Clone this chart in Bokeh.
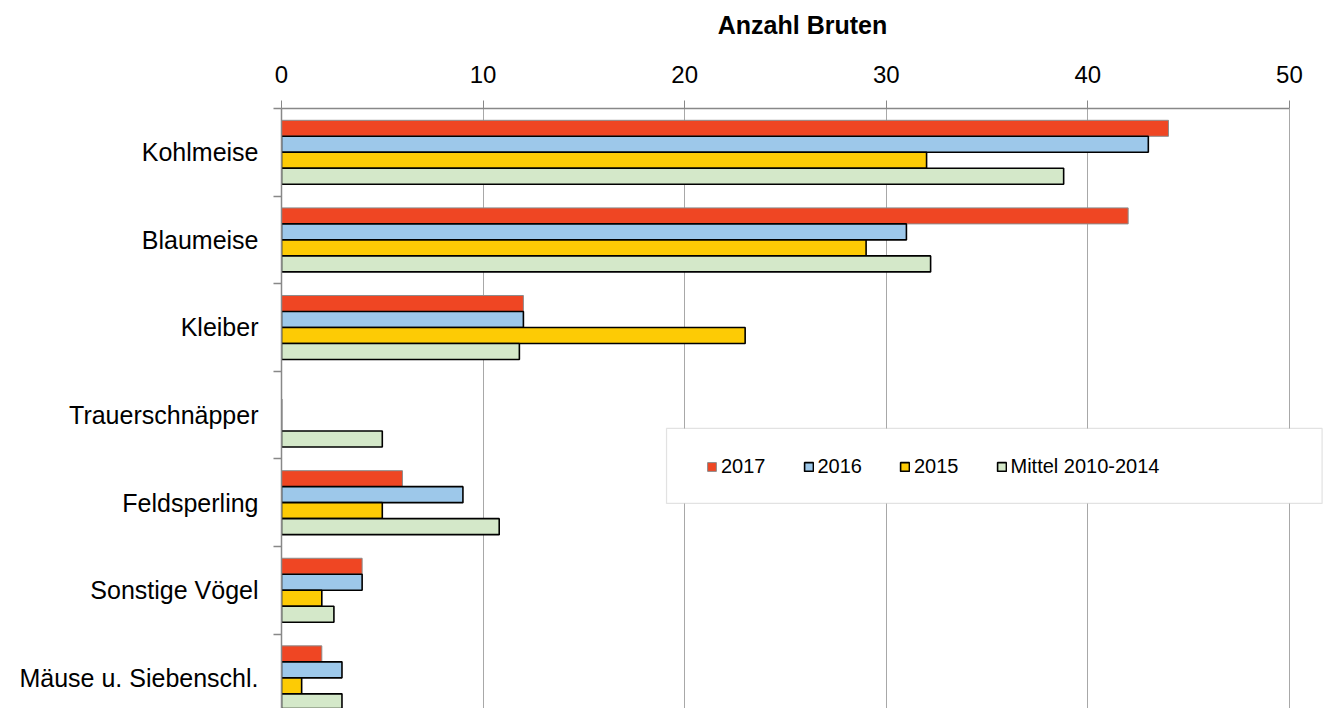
from bokeh.plotting import figure
from bokeh.models import Range1d, FixedTicker, Legend, LegendItem, BoxAnnotation
from bokeh.embed import file_html
from bokeh.resources import INLINE

# ---- data ----
categories = ["Kohlmeise", "Blaumeise", "Kleiber", "Trauerschnäpper",
              "Feldsperling", "Sonstige Vögel", "Mäuse u. Siebenschl."]
series_names = ["2017", "2016", "2015", "Mittel 2010-2014"]
v2017 = [44, 42, 12, 0, 6, 4, 2]
v2016 = [43, 31, 12, 0, 9, 4, 3]
v2015 = [32, 29, 23, 0, 5, 2, 1]
vmittel = [38.8, 32.2, 11.8, 5.0, 10.8, 2.6, 3.0]
x_ticks = [0, 10, 20, 30, 40, 50]

# ---- styles ----
fills = ["#EF4623", "#9DC8EA", "#FDCB05", "#D4E8C9"]
lines = ["#8C8C8C", "#000000", "#000000", "#000000"]
lwidths = [1, 1.6, 1.6, 1.6]
FONT = "Liberation Sans"
bh = 0.1826

p = figure(width=1323, height=708, output_backend="svg", toolbar_location=None,
           x_range=Range1d(0, 51.69), y_range=Range1d(6.85, 0),
           x_axis_location="above",
           min_border_left=281, min_border_right=0,
           min_border_top=108, min_border_bottom=0)
p.outline_line_color = None
p.background_fill_color = "white"
p.border_fill_color = "white"

# grid
p.xgrid.ticker = FixedTicker(ticks=x_ticks)
p.xgrid.grid_line_color = "#A8A8A8"
p.xgrid.grid_line_width = 1
p.ygrid.grid_line_color = None

# x axis (top)
xa = p.xaxis[0]
xa.ticker = FixedTicker(ticks=x_ticks)
xa.bounds = (0, 50)
xa.axis_line_color = "#888888"
xa.axis_line_width = 1.5
xa.major_tick_line_color = "#888888"
xa.major_tick_out = 8
xa.major_tick_in = 0
xa.minor_tick_line_color = None
xa.major_label_text_font = FONT
xa.major_label_text_font_size = "24px"
xa.major_label_text_color = "black"
xa.major_label_standoff = 18
xa.axis_label = "Anzahl Bruten"
xa.axis_label_text_font = FONT
xa.axis_label_text_font_size = "25px"
xa.axis_label_text_font_style = "bold"
xa.axis_label_text_color = "black"
xa.axis_label_standoff = 24

# y axis (left) with boundary ticks as minor ticks
ya = p.yaxis[0]
centers = [i + 0.5 for i in range(len(categories))]
ya.ticker = FixedTicker(ticks=centers, minor_ticks=list(range(len(categories) + 1)))
ya.major_label_overrides = {c: name for c, name in zip(centers, categories)}
ya.major_tick_line_color = None
ya.major_tick_out = 0
ya.major_tick_in = 0
ya.minor_tick_line_color = "#888888"
ya.minor_tick_line_width = 1.5
ya.minor_tick_out = 8
ya.minor_tick_in = 0
ya.axis_line_color = "#888888"
ya.axis_line_width = 1.5
ya.major_label_text_font = FONT
ya.major_label_text_font_size = "25px"
ya.major_label_text_color = "black"
ya.major_label_standoff = 15

# bars
renderers = []
for j, vals in enumerate([v2017, v2016, v2015, vmittel]):
    ys = [i + 0.5 + (j - 1.5) * bh for i in range(len(categories))]
    r = p.hbar(y=ys, left=0, right=vals, height=bh,
               fill_color=fills[j], line_color=lines[j], line_width=lwidths[j])
    renderers.append(r)

# legend frame
box = BoxAnnotation(left=19.10, right=51.62, top=3.653, bottom=4.509,
                    fill_color="white", fill_alpha=1.0,
                    line_color="#A0A0A0", line_width=1.2, level="annotation")
p.add_layout(box)

legend = Legend(items=[LegendItem(label=n, renderers=[r]) for n, r in zip(series_names, renderers)],
                orientation="horizontal", location=(425, 230),
                glyph_width=11, glyph_height=11, label_standoff=4, spacing=37,
                padding=0, margin=0,
                border_line_alpha=0, background_fill_alpha=0,
                label_text_font=FONT, label_text_font_size="20px",
                label_text_color="black")
p.add_layout(legend)

open("out.html", "w").write(file_html(p, INLINE))
